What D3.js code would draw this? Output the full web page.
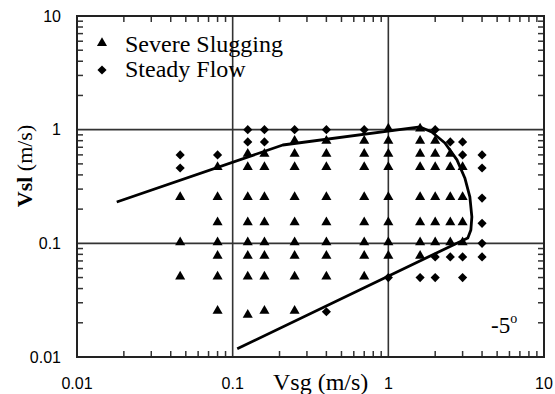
<!DOCTYPE html>
<html>
<head>
<meta charset="utf-8">
<script src="https://d3js.org/d3.v7.min.js"></script>
<style>
  body { margin: 0; background: #fff; }
  svg { display: block; }
  .serif { font-family: "Liberation Serif", "Times New Roman", serif; }
  .sans { font-family: "Liberation Sans", Arial, sans-serif; }
</style>
</head>
<body>
<script>
// Vsg columns of the test matrix (m/s)
var vsgColumns = [0.046, 0.08, 0.125, 0.16, 0.25, 0.4, 0.7, 1.0, 1.6, 2.0, 2.5, 3.0, 4.0];

// Vsl of severe slugging points, one list per column
var slugVsl = [
  [0.25, 0.1, 0.05],
  [0.46, 0.25, 0.15, 0.1, 0.076, 0.05, 0.025],
  [0.6, 0.46, 0.25, 0.15, 0.1, 0.076, 0.05, 0.023],
  [0.6, 0.46, 0.25, 0.15, 0.1, 0.076, 0.05, 0.025],
  [0.78, 0.6, 0.46, 0.25, 0.15, 0.1, 0.076, 0.05, 0.025],
  [0.78, 0.6, 0.46, 0.25, 0.15, 0.1, 0.076, 0.05],
  [0.78, 0.6, 0.46, 0.25, 0.15, 0.1, 0.076, 0.05],
  [1.0, 0.78, 0.6, 0.46, 0.25, 0.15, 0.1, 0.076],
  [1.0, 0.78, 0.6, 0.46, 0.25, 0.15, 0.1, 0.076],
  [0.78, 0.6, 0.46, 0.25, 0.15, 0.1],
  [0.6, 0.46, 0.25, 0.15, 0.1],
  [0.46, 0.25, 0.15, 0.1],
  []
];

// Vsl of steady flow points, one list per column
var steadyVsl = [
  [0.6, 0.46],
  [0.6],
  [1.0, 0.78],
  [1.0, 0.78],
  [1.0],
  [1.0, 0.025],
  [1.0],
  [0.05],
  [0.05],
  [1.0, 0.076, 0.05],
  [0.78, 0.076],
  [0.78, 0.6, 0.076, 0.05],
  [0.6, 0.46, 0.25, 0.15, 0.1, 0.076]
];

// boundary of the severe slugging region
var boundaryVsg = [0.018, 0.21, 1.6, 1.9, 2.31, 2.76, 3.1, 3.34, 3.44, 3.39, 3.24, 0.107];
var boundaryVsl = [0.231, 0.733, 1.056, 0.954, 0.764, 0.542, 0.376, 0.256, 0.171, 0.131, 0.1116, 0.0118];

var xTickLabels = ["0.01", "0.1", "1", "10"];
var yTickLabels = ["0.01", "0.1", "1", "10"];
var decades = [0.01, 0.1, 1, 10];

var w = 555, h = 394;
var pLeft = 77, pRight = 544, pTop = 16, pBottom = 357;

var svg = d3.select("body").append("svg")
  .attr("width", w)
  .attr("height", h);

var x = d3.scaleLog().domain([0.01, 10]).range([pLeft, pRight]);
var y = d3.scaleLog().domain([0.01, 10]).range([pBottom, pTop]);

// grid lines at inner decades
svg.selectAll(".gx").data([0.1, 1]).enter().append("line")
  .attr("x1", d => x(d)).attr("x2", d => x(d))
  .attr("y1", pTop).attr("y2", pBottom)
  .attr("stroke", "#333").attr("stroke-width", 1.6);
svg.selectAll(".gy").data([0.1, 1]).enter().append("line")
  .attr("y1", d => y(d)).attr("y2", d => y(d))
  .attr("x1", pLeft).attr("x2", pRight)
  .attr("stroke", "#333").attr("stroke-width", 1.6);

// minor ticks, inside on all four sides
var minors = [];
[0.01, 0.1, 1].forEach(function(d) {
  for (var k = 2; k <= 9; k++) minors.push(d * k);
});
var tl = 6;
var ticks = svg.append("g").attr("stroke", "#333").attr("stroke-width", 1.5);
minors.forEach(function(v) {
  ticks.append("line").attr("x1", x(v)).attr("x2", x(v)).attr("y1", pBottom).attr("y2", pBottom - tl);
  ticks.append("line").attr("x1", x(v)).attr("x2", x(v)).attr("y1", pTop).attr("y2", pTop + tl);
  ticks.append("line").attr("y1", y(v)).attr("y2", y(v)).attr("x1", pLeft).attr("x2", pLeft + tl);
  ticks.append("line").attr("y1", y(v)).attr("y2", y(v)).attr("x1", pRight).attr("x2", pRight - tl);
});

// frame
svg.append("rect")
  .attr("x", pLeft).attr("y", pTop)
  .attr("width", pRight - pLeft).attr("height", pBottom - pTop)
  .attr("fill", "none").attr("stroke", "#222").attr("stroke-width", 2);

// tick labels
svg.selectAll(".xl").data(decades).enter().append("text")
  .attr("class", "sans")
  .attr("x", d => x(d)).attr("y", 389)
  .attr("text-anchor", "middle")
  .attr("font-size", 16)
  .text((d, i) => xTickLabels[i]);
svg.selectAll(".yl").data(decades).enter().append("text")
  .attr("class", "sans")
  .attr("x", 61).attr("y", d => y(d))
  .attr("dy", "0.36em")
  .attr("text-anchor", "end")
  .attr("font-size", 16)
  .text((d, i) => yTickLabels[i]);

// axis titles
svg.append("text").attr("class", "serif")
  .attr("x", 273).attr("y", 390)
  .attr("font-size", 24)
  .text("Vsg (m/s)");
var yt = svg.append("text").attr("class", "serif")
  .attr("transform", "translate(32,166) rotate(-90)")
  .attr("text-anchor", "middle")
  .attr("font-size", 22);
yt.append("tspan").attr("font-weight", "bold").text("Vsl");
yt.append("tspan").text(" (m/s)");

// points
var slugPts = [], steadyPts = [];
vsgColumns.forEach(function(vx, i) {
  slugVsl[i].forEach(function(vy) { slugPts.push([vx, vy]); });
  steadyVsl[i].forEach(function(vy) { steadyPts.push([vx, vy]); });
});

var tri = d3.symbol().type(d3.symbolTriangle).size(44);
var dia = d3.symbol().type(d3.symbolSquare).size(42);

svg.selectAll(".slug").data(slugPts).enter().append("path")
  .attr("d", tri)
  .attr("transform", d => "translate(" + x(d[0]) + "," + (y(d[1]) - 1) + ")")
  .attr("fill", "#000");

svg.selectAll(".steady").data(steadyPts).enter().append("path")
  .attr("d", dia)
  .attr("transform", d => "translate(" + x(d[0]) + "," + y(d[1]) + ") rotate(45)")
  .attr("fill", "#000");

// boundary curve
var line = d3.line()
  .x(d => x(d[0]))
  .y(d => y(d[1]));
svg.append("path")
  .datum(boundaryVsg.map((v, i) => [v, boundaryVsl[i]]))
  .attr("d", line)
  .attr("fill", "none")
  .attr("stroke", "#000")
  .attr("stroke-width", 2.8)
  .attr("stroke-linejoin", "round");

// legend
svg.append("path").attr("d", tri).attr("transform", "translate(102,43)").attr("fill", "#000");
svg.append("path").attr("d", dia).attr("transform", "translate(102,70) rotate(45)").attr("fill", "#000");
svg.append("text").attr("class", "serif").attr("x", 125).attr("y", 52)
  .attr("font-size", 24).text("Severe Slugging");
svg.append("text").attr("class", "serif").attr("x", 125).attr("y", 77)
  .attr("font-size", 24).text("Steady Flow");

// inclination label
var inc = svg.append("text").attr("class", "serif")
  .attr("x", 491).attr("y", 333)
  .attr("font-size", 23);
inc.append("tspan").text("-5");
inc.append("tspan").attr("dy", -10).attr("font-size", 14).text("o");
</script>
</body>
</html>
